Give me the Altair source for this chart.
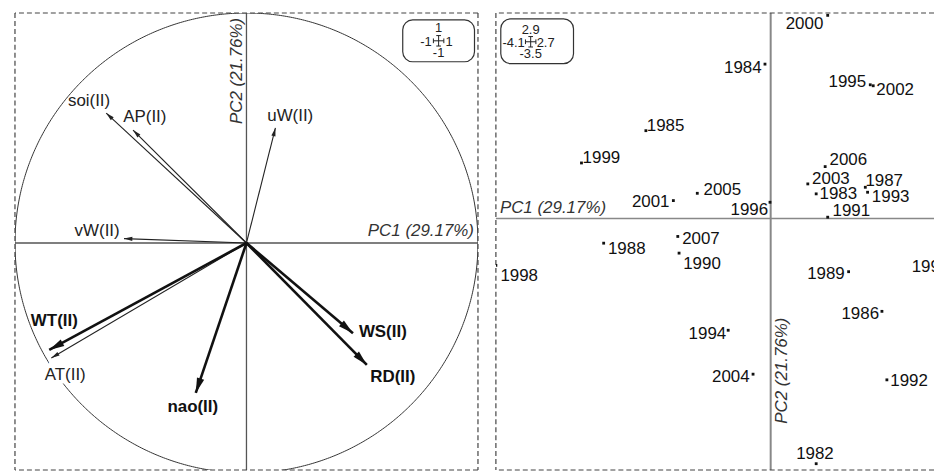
import altair as alt
import numpy as np
import pandas as pd

# ---------------- data: correlation circle (left panel) ----------------
var_names = ["soi(II)", "AP(II)", "uW(II)", "vW(II)", "WT(II)", "AT(II)", "nao(II)", "WS(II)", "RD(II)"]
var_pc1 = [-0.606, -0.490, 0.125, -0.529, -0.852, -0.843, -0.219, 0.460, 0.520]
var_pc2 = [0.565, 0.491, 0.500, 0.019, -0.465, -0.500, -0.652, -0.392, -0.530]
var_bold = [False, False, False, False, True, False, True, True, True]
var_lab_x = [-0.680, -0.439, 0.189, -0.645, -0.830, -0.783, -0.232, 0.589, 0.632]
var_lab_y = [0.617, 0.548, 0.552, 0.054, -0.340, -0.574, -0.712, -0.387, -0.582]

# ---------------- data: year scores (right panel) ----------------
years = [1982, 1983, 1984, 1985, 1986, 1987, 1988, 1989, 1990, 1991, 1992, 1993, 1994,
         1995, 1996, 1997, 1998, 1999, 2000, 2001, 2002, 2003, 2004, 2005, 2006, 2007]
pc1 = [0.679, 0.679, -0.085, -1.862, 1.660, 1.412, -2.492, 1.163, -1.367, 0.851, 1.734, 1.446, -0.634,
       1.486, -0.010, 2.700, -4.100, -2.823, 0.851, -1.452, 1.530, 0.554, -0.263, -1.095, 0.813, -1.386]
pc2 = [-3.500, 0.352, 2.204, 1.254, -1.325, 0.446, -0.352, -0.759, -0.494, 0.019, -2.303, 0.375, -1.595,
       1.909, 0.232, -0.670, -0.670, 0.793, 2.900, 0.256, 1.895, 0.494, -2.222, 0.360, 0.741, -0.256]
year_lab_x = [0.661, 1.010, -0.416, -1.568, 1.337, 1.694, -2.147, 0.825, -1.025, 1.204, 2.065, 1.790, -0.944,
              1.144, -0.319, 2.385, -3.752, -2.526, 0.505, -1.790, 1.857, 0.899, -0.594, -0.721, 1.159, -1.040]
year_lab_y = [-3.358, 0.345, 2.151, 1.315, -1.363, 0.535, -0.442, -0.793, -0.645, 0.114, -2.322, 0.300, -1.642,
              1.942, 0.124, -0.698, -0.826, 0.869, 2.782, 0.242, 1.833, 0.570, -2.261, 0.413, 0.836, -0.289]

pc1_label = "PC1 (29.17%)"
pc2_label = "PC2 (21.76%)"

FONT = "Liberation Sans"
FS = 17
DASH = [5, 3]
BORDER = "#444"

# ---------------- scales ----------------
SXL = alt.Scale(domain=[-1, 1], nice=False, zero=False)
SYL = alt.Scale(domain=[-0.987, 1], nice=False, zero=False)
SXR = alt.Scale(domain=[-4.1, 2.437], nice=False, zero=False)
SYR = alt.Scale(domain=[-3.59, 2.934], nice=False, zero=False)


def fx(sc, f):
    return alt.X(f, type="quantitative", scale=sc, axis=None)


def fy(sc, f):
    return alt.Y(f, type="quantitative", scale=sc, axis=None)


def dx_(sc, v):
    return alt.XDatum(v, type="quantitative", scale=sc, axis=None)


def dy_(sc, v):
    return alt.YDatum(v, type="quantitative", scale=sc, axis=None)


one = pd.DataFrame({"k": [0]})

# ================= LEFT PANEL =================
vars_df = pd.DataFrame({
    "name": var_names, "x": var_pc1, "y": var_pc2, "bold": var_bold,
    "lx": var_lab_x, "ly": var_lab_y,
})
vars_df["x0"] = 0.0
vars_df["y0"] = 0.0
vars_df["angle"] = np.degrees(np.arctan2(vars_df["x"], vars_df["y"])) % 360

theta = np.linspace(0, 2 * np.pi, 721)
circle_df = pd.DataFrame({"cx": np.cos(theta), "cy": np.sin(theta), "i": np.arange(theta.size)})

circle = alt.Chart(circle_df).mark_line(color="#333", strokeWidth=1, clip=True).encode(
    x=fx(SXL, "cx"), y=fy(SYL, "cy"), order="i:Q")

l_hax = alt.Chart(one).mark_rule(color="#555", strokeWidth=1.3).encode(y=dy_(SYL, 0))
l_vax = alt.Chart(one).mark_rule(color="#555", strokeWidth=1.3).encode(x=dx_(SXL, 0))

ARROW = "M0,0L0.5,2L-0.5,2Z"

thin = alt.Chart(vars_df).transform_filter("!datum.bold")
thick = alt.Chart(vars_df).transform_filter("datum.bold")

thin_lines = thin.mark_rule(color="#222", strokeWidth=1.1).encode(
    x=fx(SXL, "x0"), y=fy(SYL, "y0"), x2="x", y2="y")
thick_lines = thick.mark_rule(color="#111", strokeWidth=2.6).encode(
    x=fx(SXL, "x0"), y=fy(SYL, "y0"), x2="x", y2="y")
thin_heads = thin.mark_point(shape=ARROW, filled=True, color="#222", opacity=1, strokeWidth=0).encode(
    x=fx(SXL, "x"), y=fy(SYL, "y"), angle=alt.Angle("angle:Q", scale=None), size=alt.value(70))
thick_heads = thick.mark_point(shape=ARROW, filled=True, color="#111", opacity=1, strokeWidth=0).encode(
    x=fx(SXL, "x"), y=fy(SYL, "y"), angle=alt.Angle("angle:Q", scale=None), size=alt.value(230))

halo = alt.Chart(vars_df).transform_filter("datum.name == 'AT(II)'").mark_text(
    font=FONT, fontSize=FS, stroke="white", strokeWidth=7, color="white").encode(
    x=fx(SXL, "lx"), y=fy(SYL, "ly"), text="name:N")
thin_text = thin.mark_text(font=FONT, fontSize=FS, color="#222").encode(
    x=fx(SXL, "lx"), y=fy(SYL, "ly"), text="name:N")
thick_text = thick.mark_text(font=FONT, fontSize=FS, fontWeight="bold", color="#111").encode(
    x=fx(SXL, "lx"), y=fy(SYL, "ly"), text="name:N")

l_pc1 = alt.Chart(one).mark_text(font=FONT, fontSize=FS, fontStyle="italic", color="#333",
                                 align="right", baseline="bottom", dx=-4, dy=-3,
                                 text=pc1_label).encode(x=dx_(SXL, 1), y=dy_(SYL, 0))
l_pc2 = alt.Chart(one).mark_text(font=FONT, fontSize=FS, fontStyle="italic", color="#333",
                                 align="left", baseline="bottom", angle=270,
                                 text=pc2_label).encode(x=dx_(SXL, 0), y=dy_(SYL, 0.517))

# dashed frame of the left panel
l_frame = [
    alt.Chart(one).mark_rule(color=BORDER, strokeWidth=1.2, strokeDash=DASH).encode(x=dx_(SXL, -1)),
    alt.Chart(one).mark_rule(color=BORDER, strokeWidth=1.2, strokeDash=DASH).encode(x=dx_(SXL, 1)),
    alt.Chart(one).mark_rule(color=BORDER, strokeWidth=1.2, strokeDash=DASH).encode(y=dy_(SYL, 1)),
    alt.Chart(one).mark_rule(color=BORDER, strokeWidth=1.2, strokeDash=DASH).encode(y=dy_(SYL, -0.987)),
]

# inset (range of the circle)
l_box = alt.Chart(one).mark_rect(cornerRadius=10, fill="white", stroke="#333", strokeWidth=1.2).encode(
    x=dx_(SXL, 0.675), x2=alt.X2Datum(0.985), y=dy_(SYL, 0.970), y2=alt.Y2Datum(0.788))
CROSS = "M-1,0H1M0,-1V1M-1,-0.45V0.45M1,-0.45V0.45M-0.45,-1H0.45M-0.45,1H0.45"


def inset_cross(sx, sy, cxv, cyv):
    return alt.Chart(one).mark_point(shape=CROSS, filled=False, color="#222", strokeWidth=1,
                                     opacity=1, size=110).encode(x=dx_(sx, cxv), y=dy_(sy, cyv))


def inset_txt(sx, sy, cxv, cyv, txt, align, ddx, ddy):
    return alt.Chart(one).mark_text(font=FONT, fontSize=13, color="#222", align=align,
                                    baseline="middle", dx=ddx, dy=ddy, text=txt).encode(
        x=dx_(sx, cxv), y=dy_(sy, cyv))


lcx, lcy = 0.830, 0.879
l_inset = [
    l_box,
    inset_cross(SXL, SYL, lcx, lcy),
    inset_txt(SXL, SYL, lcx, lcy, "1", "center", 0, -13),
    inset_txt(SXL, SYL, lcx, lcy, "-1", "center", 0, 12),
    inset_txt(SXL, SYL, lcx, lcy, "-1", "right", -7, 1),
    inset_txt(SXL, SYL, lcx, lcy, "1", "left", 7, 1),
]

left = alt.layer(
    circle, l_hax, l_vax, thin_lines, thick_lines, thin_heads, thick_heads,
    halo, thin_text, thick_text, l_pc1, l_pc2, *l_frame, *l_inset
).properties(width=465, height=459)

# ================= RIGHT PANEL =================
yr_df = pd.DataFrame({"year": [str(y) for y in years], "x": pc1, "y": pc2,
                      "lx": year_lab_x, "ly": year_lab_y})

r_hax = alt.Chart(one).mark_rule(color="#888", strokeWidth=1.6).encode(y=dy_(SYR, 0))
r_vax = alt.Chart(one).mark_rule(color="#888", strokeWidth=2).encode(x=dx_(SXR, 0))

dots = alt.Chart(yr_df).mark_square(color="#111", size=8, opacity=1, clip=True).encode(
    x=fx(SXR, "x"), y=fy(SYR, "y"))
yr_text = alt.Chart(yr_df).mark_text(font=FONT, fontSize=FS, color="#111", clip=True).encode(
    x=fx(SXR, "lx"), y=fy(SYR, "ly"), text="year:N")

r_pc1 = alt.Chart(one).mark_text(font=FONT, fontSize=FS, fontStyle="italic", color="#333",
                                 align="left", baseline="bottom", dx=4, dy=-2,
                                 text=pc1_label).encode(x=dx_(SXR, -4.1), y=dy_(SYR, 0))
r_pc2 = alt.Chart(one).mark_text(font=FONT, fontSize=FS, fontStyle="italic", color="#333",
                                 align="left", baseline="top", angle=270,
                                 text=pc2_label).encode(x=dx_(SXR, 0.05), y=dy_(SYR, -2.93))

# dashed frame of the right panel (its right edge lies beyond the picture)
r_frame = [
    alt.Chart(one).mark_rule(color=BORDER, strokeWidth=1.2, strokeDash=DASH).encode(x=dx_(SXR, -4.1)),
    alt.Chart(one).mark_rule(color=BORDER, strokeWidth=1.2, strokeDash=DASH).encode(y=dy_(SYR, 2.934)),
    alt.Chart(one).mark_rule(color=BORDER, strokeWidth=1.2, strokeDash=DASH).encode(y=dy_(SYR, -3.59)),
]

rcx, rcy = -3.581, 2.523
r_box = alt.Chart(one).mark_rect(cornerRadius=10, fill="white", stroke="#333", strokeWidth=1.2).encode(
    x=dx_(SXR, -4.027), x2=alt.X2Datum(-2.942), y=dy_(SYR, 2.851), y2=alt.Y2Datum(2.211))
r_inset = [
    r_box,
    inset_cross(SXR, SYR, rcx, rcy),
    inset_txt(SXR, SYR, rcx, rcy, f"{max(pc2):.1f}", "center", 0, -12),
    inset_txt(SXR, SYR, rcx, rcy, f"{min(pc2):.1f}", "center", 0, 12),
    inset_txt(SXR, SYR, rcx, rcy, f"{min(pc1):.1f}", "right", -6, 1),
    inset_txt(SXR, SYR, rcx, rcy, f"{max(pc1):.1f}", "left", 6, 1),
]

right = alt.layer(r_hax, r_vax, *r_frame, dots, yr_text, r_pc1, r_pc2, *r_inset).properties(
    width=440, height=459)

chart = alt.hconcat(left, right, spacing=16).properties(
    padding={"left": 6, "top": 3, "right": 0, "bottom": 0}
).configure_view(strokeOpacity=0)

chart.save("out.html", embed_options={"renderer": "svg", "actions": False})
